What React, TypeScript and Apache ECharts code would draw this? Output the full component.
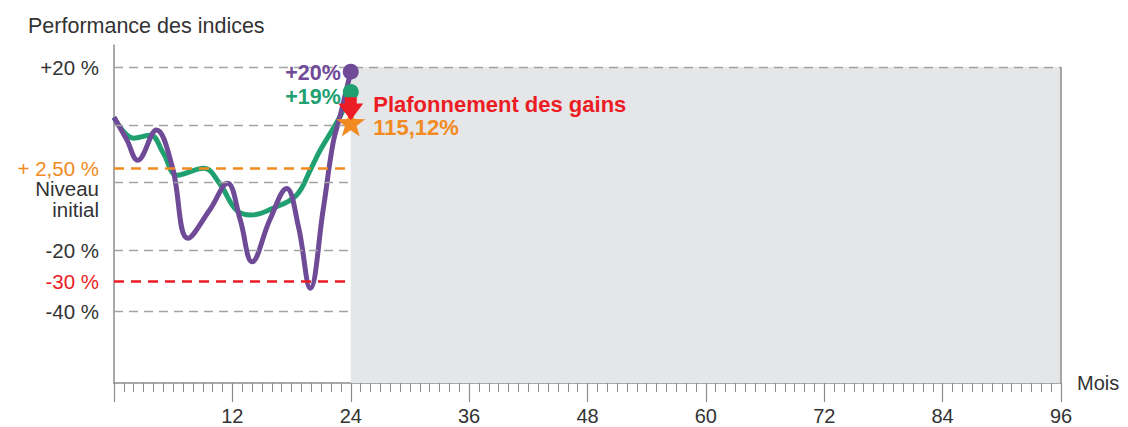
import React, { useEffect, useRef } from 'react';
import * as echarts from 'echarts';

// ---- data ----
const purpleMonths = [0, 1.3, 2.4, 4.3, 5.9, 7.5, 9.7, 11.5, 12.8, 14, 15.8, 17.5, 18.7, 19.9, 21.2, 22.2, 22.9, 24];
const purplePerf = [11.3, 7.4, 3.9, 9.1, 2.8, -16.5, -8.1, -0.2, -11.1, -23.8, -11, -1.7, -13.1, -32.4, -8.1, 6.8, 11.4, 19.2];
const greenMonths = [0, 2, 3.7, 5, 6.4, 9.1, 10.7, 12.4, 13.9, 16.1, 18.5, 19.9, 20.9, 22.9, 24];
const greenPerf = [11.3, 7.7, 8.2, 5.1, 1.3, 2.5, -0.2, -8.1, -9.6, -7.6, -3.7, 2.2, 5.6, 11.4, 15.7];
const endLabels = ['+20%', '+19%'];
const arrowPerf = 12.8;
const starPerf = 10.4;
const capTitle = 'Plafonnement des gains';
const capValue = '115,12%';
const observedEnd = 24;
const horizon = 96;

// y axis tick labels (schematic, non-linear scale as in the original)
const yTickPct = [20, 2.5, 0, -20, -30, -40];
const yTickText = ['+20 %', '+ 2,50 %', 'Niveau initial', '-20 %', '-30 %', '-40 %'];
const grayGridPct = [10, 0, -20, -40];
const topGridPct = 20;
const barrierUpPct = 2.5;
const barrierDownPct = -30;

// piecewise scale of the schematic axis
const SCALE_PCT = [-40, -30, -20, 0, 20];
const SCALE_POS = [-129, -98.3, -67.3, 0, 115.7];
const Y_MIN = -200.3;
const Y_MAX = 137.7;

function warp(p: number): number {
  const n = SCALE_PCT.length;
  let i = 0;
  if (p <= SCALE_PCT[0]) i = 0;
  else if (p >= SCALE_PCT[n - 1]) i = n - 2;
  else {
    while (p > SCALE_PCT[i + 1]) i++;
  }
  const t = (p - SCALE_PCT[i]) / (SCALE_PCT[i + 1] - SCALE_PCT[i]);
  return SCALE_POS[i] + t * (SCALE_POS[i + 1] - SCALE_POS[i]);
}

const FONT = '"Liberation Sans", Arial, Helvetica, sans-serif';
const PURPLE = '#6f4a97';
const GREEN = '#20a070';
const ORANGE = '#f28a22';
const RED = '#ec1c24';
const GRID_GRAY = '#a3a3a3';
const AXIS_GRAY = '#8c8c8c';
const TEXT = '#333333';

const STAR_PATH =
  'path://M50,0 L61.76,33.82 L97.55,34.55 L69.02,56.18 L79.39,90.45 L50,70 L20.61,90.45 L30.98,56.18 L2.45,34.55 L38.24,33.82 Z';
const ARROW_PATH = 'path://M26,0 L74,0 L74,28 L100,28 L50,100 L0,28 L26,28 Z';

export default function App() {
  const ref = useRef<HTMLDivElement>(null);

  useEffect(() => {
    document.body.style.margin = '0';
    if (!ref.current) return;
    const chart = echarts.init(ref.current, undefined, { renderer: 'svg' });

    const grayDash = { color: GRID_GRAY, width: 1.3, type: [9, 6] };
    const markLines: any[] = [];
    grayGridPct.forEach((p) => {
      markLines.push([
        { coord: [0, warp(p)], lineStyle: grayDash },
        { coord: [observedEnd, warp(p)], lineStyle: grayDash },
      ]);
    });
    markLines.push([
      { coord: [0, warp(topGridPct)], lineStyle: grayDash },
      { coord: [horizon, warp(topGridPct)], lineStyle: grayDash },
    ]);
    const orangeDash = { color: ORANGE, width: 2.6, type: [10, 7] };
    markLines.push([
      { coord: [0, warp(barrierUpPct)], lineStyle: orangeDash },
      { coord: [observedEnd, warp(barrierUpPct)], lineStyle: orangeDash },
    ]);
    const redDash = { color: RED, width: 2.6, type: [10, 7] };
    markLines.push([
      { coord: [0, warp(barrierDownPct)], lineStyle: redDash },
      { coord: [observedEnd, warp(barrierDownPct)], lineStyle: redDash },
    ]);
    const borderStyle = { color: AXIS_GRAY, width: 1.5, type: 'solid' };
    markLines.push([
      { coord: [horizon, warp(topGridPct)], lineStyle: borderStyle },
      { coord: [horizon, Y_MIN], lineStyle: borderStyle },
    ]);

    const yLabelVals = yTickPct.map(warp);

    const option: any = {
      animation: false,
      textStyle: { fontFamily: FONT },
      title: {
        text: 'Performance des indices',
        left: 23,
        top: 10,
        textStyle: { fontSize: 21.5, fontWeight: 'normal', color: TEXT, fontFamily: FONT },
      },
      grid: { left: 114, right: 67, top: 45, bottom: 44 },
      xAxis: {
        type: 'value',
        min: 0,
        max: horizon,
        interval: 12,
        name: 'Mois',
        nameLocation: 'end',
        nameGap: 16,
        nameTextStyle: { fontSize: 20, color: TEXT, fontFamily: FONT, verticalAlign: 'middle', align: 'left' },
        axisLine: { show: true, onZero: false, lineStyle: { color: AXIS_GRAY, width: 1.5 } },
        axisTick: { show: true, length: 19, lineStyle: { color: AXIS_GRAY, width: 1.2 } },
        minorTick: { show: true, splitNumber: 12, length: 9, lineStyle: { color: AXIS_GRAY, width: 1 } },
        axisLabel: {
          fontSize: 20,
          color: TEXT,
          fontFamily: FONT,
          margin: 23,
          formatter: (v: number) => (v === 0 ? '' : String(v)),
        },
        splitLine: { show: false },
        minorSplitLine: { show: false },
      },
      yAxis: {
        type: 'value',
        min: Y_MIN,
        max: Y_MAX,
        axisLine: { show: true, lineStyle: { color: AXIS_GRAY, width: 1.5 } },
        axisTick: { show: false },
        splitLine: { show: false },
        axisLabel: {
          customValues: yLabelVals,
          margin: 15,
          fontSize: 20.5,
          color: TEXT,
          fontFamily: FONT,
          formatter: (v: number) => {
            const idx = yLabelVals.findIndex((w) => Math.abs(w - v) < 0.01);
            if (idx < 0) return '';
            const pct = yTickPct[idx];
            const txt = yTickText[idx];
            if (pct === barrierUpPct) return '{o|' + txt + '}';
            if (pct === barrierDownPct) return '{r|' + txt + '}';
            if (pct === 0) {
              const parts = txt.split(' ');
              return '{sp| }\n{ni|' + parts[0] + '}\n{ni|' + parts[1] + '}';
            }
            return '{g|' + txt + '}';
          },
          rich: {
            g: { color: TEXT, fontSize: 20.5, lineHeight: 18, fontFamily: FONT },
            o: { color: ORANGE, fontSize: 20.5, lineHeight: 17, fontFamily: FONT },
            r: { color: RED, fontSize: 20.5, lineHeight: 18, fontFamily: FONT },
            sp: { fontSize: 2, lineHeight: 32 },
            ni: { color: TEXT, fontSize: 20.5, lineHeight: 21, fontFamily: FONT, align: 'right' },
          },
        },
      },
      series: [
        {
          name: 'backdrop',
          type: 'line',
          data: [],
          z: 1,
          silent: true,
          markArea: {
            silent: true,
            itemStyle: { color: '#e5e6e8' },
            data: [[{ coord: [observedEnd, warp(topGridPct)] }, { coord: [horizon, Y_MIN] }]],
          },
          markLine: {
            silent: true,
            symbol: ['none', 'none'],
            label: { show: false },
            data: markLines,
          },
        },
        {
          name: 'green',
          type: 'line',
          z: 3,
          smooth: 0.4,
          showSymbol: false,
          silent: true,
          lineStyle: { color: GREEN, width: 5 },
          data: greenMonths.map((m, i) => [m, warp(greenPerf[i])]),
        },
        {
          name: 'purple',
          type: 'line',
          z: 4,
          smooth: 0.4,
          showSymbol: false,
          silent: true,
          lineStyle: { color: PURPLE, width: 5 },
          data: purpleMonths.map((m, i) => [m, warp(purplePerf[i])]),
        },
        {
          name: 'ends',
          type: 'scatter',
          z: 5,
          silent: true,
          symbol: 'circle',
          symbolSize: 16,
          itemStyle: { opacity: 1 },
          label: {
            show: true,
            position: 'left',
            distance: 2,
            fontSize: 21.5,
            lineHeight: 20,
            fontWeight: 'bold',
            fontFamily: FONT,
          },
          data: [
            {
              value: [observedEnd, warp(purplePerf[purplePerf.length - 1])],
              itemStyle: { color: PURPLE, opacity: 1 },
              label: { formatter: endLabels[0], color: PURPLE, offset: [0, 1] },
            },
            {
              value: [observedEnd, warp(greenPerf[greenPerf.length - 1])],
              itemStyle: { color: GREEN, opacity: 1 },
              label: { formatter: endLabels[1], color: GREEN, offset: [0, 5] },
            },
          ],
        },
        {
          name: 'star',
          type: 'scatter',
          z: 6,
          silent: true,
          symbol: STAR_PATH,
          symbolSize: [29, 28],
          itemStyle: { color: ORANGE, opacity: 1 },
          label: {
            show: true,
            position: 'right',
            distance: 8,
            offset: [0, -7],
            formatter: '{a|' + capTitle + '}\n{b|' + capValue + '}',
            rich: {
              a: { color: RED, fontSize: 22, fontWeight: 'bold', lineHeight: 23, fontFamily: FONT },
              b: { color: ORANGE, fontSize: 22, fontWeight: 'bold', lineHeight: 23, fontFamily: FONT },
            },
          },
          data: [[observedEnd, warp(starPerf)]],
        },
        {
          name: 'arrow',
          type: 'scatter',
          z: 7,
          silent: true,
          symbol: ARROW_PATH,
          symbolSize: [25, 23],
          itemStyle: { color: RED, opacity: 1 },
          data: [[observedEnd, warp(arrowPerf)]],
        },
      ],
    };

    chart.setOption(option);
    return () => chart.dispose();
  }, []);

  return <div ref={ref} style={{ width: 1128, height: 427 }} />;
}
